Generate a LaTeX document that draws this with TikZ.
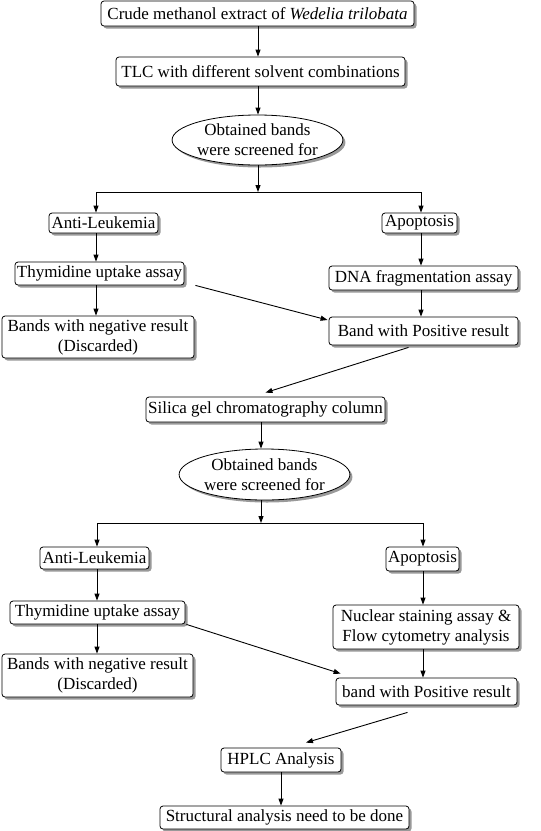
\documentclass[tikz,border=0pt]{standalone}
\usepackage{fontspec}
\setmainfont{Liberation Serif}
\usetikzlibrary{shapes.geometric,shadows,arrows.meta,calc}
\begin{document}
\begin{tikzpicture}[x=1pt,y=-1pt,
  wh/.style 2 args={minimum width=#1pt, minimum height=#2pt},
  box/.style={draw, rounded corners=3pt, fill=white, line width=0.8pt, inner sep=0pt, align=center,
    font=\fontsize{17}{20}\selectfont,
    drop shadow={shadow xshift=2.5pt, shadow yshift=-2.5pt, fill=black!40, opacity=1}},
  ell/.style={box, ellipse, sharp corners},
  arr/.style={-{Triangle[length=7pt,width=5pt]}, line width=0.9pt},
  ln/.style={line width=0.9pt}]
\fill[white] (0,0) rectangle (541,831);
\useasboundingbox (0,0) rectangle (541,831);

% nodes
\node[box, wh={313}{25}] (crude) at (257.5,13.5) {Crude methanol extract of \textit{Wedelia trilobata}};
\node[box, wh={289}{29}] (tlc) at (260.5,71.5) {TLC with different solvent combinations};
\node[ell, wh={155}{50}] (ell1) at (257.5,140) {Obtained bands\\were screened for};
\node[box, wh={109}{20}] (anti1) at (103.5,223) {Anti-Leukemia};
\node[box, wh={75}{20}] (apop1) at (419.5,223) {Apoptosis};
\node[box, wh={169}{23}] (thy1) at (99.5,273.5) {Thymidine uptake assay};
\node[box, wh={189}{24}] (dna) at (423.5,278) {DNA fragmentation assay};
\node[box, wh={192}{42}] (neg1) at (98,337) {Bands with negative result\\(Discarded)};
\node[box, wh={189}{28}] (pos1) at (423.5,331) {Band with Positive result};
\node[box, wh={239}{25}] (silica) at (265.5,409.5) {Silica gel chromatography column};
\node[ell, wh={155}{51}] (ell2) at (264.5,474.5) {Obtained bands\\were screened for};
\node[box, wh={109}{22}] (anti2) at (94.5,558) {Anti-Leukemia};
\node[box, wh={73}{24}] (apop2) at (422.5,559) {Apoptosis};
\node[box, wh={175}{23}] (thy2) at (97.5,612.5) {Thymidine uptake assay};
\node[box, wh={186}{44}] (nuc) at (426,627) {Nuclear staining assay \&\\Flow cytometry analysis};
\node[box, wh={191}{43}] (neg2) at (97.5,675.5) {Bands with negative result\\(Discarded)};
\node[box, wh={181}{27}] (pos2) at (426.5,691.5) {band with Positive result};
\node[box, wh={120}{24}] (hplc) at (281,760) {HPLC Analysis};
\node[box, wh={249}{23}] (struct) at (284.5,817.5) {Structural analysis need to be done};

% junction coordinates
\coordinate (j1) at (258,192);
\coordinate (j1l) at (96,192);
\coordinate (j1r) at (421,192);
\coordinate (j2) at (261,523);
\coordinate (j2l) at (97,523);
\coordinate (j2r) at (423,523);

% connectors - upper part
\draw[arr] (j1 |- crude.south) -- (j1 |- tlc.north);
\draw[arr] (j1 |- tlc.south) -- (j1 |- ell1.north);
\draw[arr] (j1 |- ell1.south) -- (j1);
\draw[ln] (j1l) -- (j1r);
\draw[arr] (j1l) -- (j1l |- anti1.north);
\draw[arr] (j1r) -- (j1r |- apop1.north);
\draw[arr] (j1l |- anti1.south) -- (j1l |- thy1.north);
\draw[arr] (j1l |- thy1.south) -- (j1l |- neg1.north);
\draw[arr] (j1r |- apop1.south) -- (j1r |- dna.north);
\draw[arr] (j1r |- dna.south) -- (j1r |- pos1.north);
\draw[arr] ($(thy1.south east)+(11,0)$) -- ($(pos1.west)+(-1,-11)$);
\draw[arr] ($(pos1.south)+(-15,2)$) -- ($(silica.north)+(0,-4)$);

% connectors - lower part
\draw[arr] (j2 |- silica.south) -- (j2 |- ell2.north);
\draw[arr] (j2 |- ell2.south) -- (j2);
\draw[ln] (j2l) -- (j2r);
\draw[arr] (j2l) -- (j2l |- anti2.north);
\draw[arr] (j2r) -- (j2r |- apop2.north);
\draw[arr] (j2l |- anti2.south) -- (j2l |- thy2.north);
\draw[arr] (j2l |- thy2.south) -- (j2l |- neg2.north);
\draw[arr] (j2r |- apop2.south) -- (j2r |- nuc.north);
\draw[arr] (j2r |- nuc.south) -- (j2r |- pos2.north);
\draw[arr] ($(thy2.south east)+(1,0)$) -- ($(pos2.north west)+(5,-4)$);
\draw[arr] ($(pos2.south)+(-19,7)$) -- ($(hplc.north)+(25,-5)$);
\draw[arr] (hplc.south) -- (hplc.south |- struct.north);
\end{tikzpicture}
\end{document}
